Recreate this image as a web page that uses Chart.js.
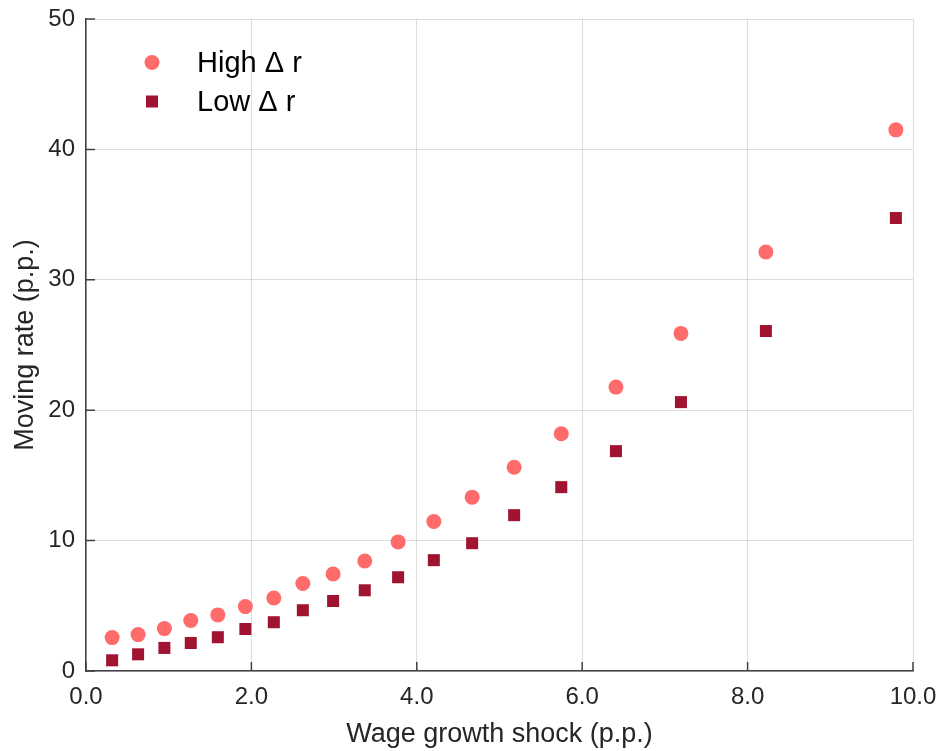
<!DOCTYPE html>
<html>
<head>
<meta charset="utf-8">
<script src="https://cdn.jsdelivr.net/npm/chart.js@4"></script>
<style>
  html, body { margin: 0; padding: 0; background: #ffffff; }
  #wrap { position: relative; width: 941px; height: 751px; }
</style>
</head>
<body>
<div id="wrap"><canvas id="chart" width="941" height="751"></canvas></div>
<script>
// wage growth shock (p.p.) -- same x for both series
const shock = [0.316, 0.630, 0.948, 1.267, 1.594, 1.927, 2.271, 2.622, 2.988, 3.371,
  3.774, 4.206, 4.669, 5.177, 5.747, 6.408, 7.194, 8.221, 9.793];
const highDr = [2.56, 2.79, 3.25, 3.87, 4.30, 4.94, 5.60, 6.71, 7.44, 8.44,
  9.90, 11.47, 13.33, 15.63, 18.19, 21.77, 25.89, 32.13, 41.50];
const lowDr = [0.82, 1.28, 1.77, 2.15, 2.59, 3.22, 3.74, 4.66, 5.37, 6.19,
  7.19, 8.50, 9.80, 11.95, 14.10, 16.86, 20.62, 26.07, 34.74];
const seriesLabels = ["High \u0394 r", "Low \u0394 r"];
const xTicks = [0, 2, 4, 6, 8, 10];
const yTicks = [0, 10, 20, 30, 40, 50];

const FONT = "'Liberation Sans', Arial, sans-serif";
const TXT = "#262626";

const pairs = (xs, ys) => xs.map((x, i) => ({ x: x, y: ys[i] }));

// matlab-like inward tick marks
const innerTicks = {
  id: "innerTicks",
  afterDatasetsDraw(chart) {
    const ctx = chart.ctx;
    const xs = chart.scales.x, ys = chart.scales.y;
    ctx.save();
    ctx.strokeStyle = "#404040";
    ctx.lineWidth = 1.5;
    ctx.beginPath();
    xTicks.forEach(v => {
      const px = xs.getPixelForValue(v);
      ctx.moveTo(px, ys.bottom);
      ctx.lineTo(px, ys.bottom - 9);
    });
    yTicks.forEach(v => {
      const py = ys.getPixelForValue(v);
      ctx.moveTo(xs.left, py);
      ctx.lineTo(xs.left + 9, py);
    });
    ctx.stroke();
    ctx.restore();
  }
};

// legend inside the plot, top-left
const insideLegend = {
  id: "insideLegend",
  afterDraw(chart) {
    const ctx = chart.ctx;
    const a = chart.chartArea;
    ctx.save();
    chart.data.datasets.forEach((ds, i) => {
      const cy = a.top + 43.5 + i * 39;
      const cx = a.left + 66;
      ctx.fillStyle = ds.backgroundColor;
      Chart.helpers.drawPoint(ctx, {
        pointStyle: ds.pointStyle,
        radius: ds.pointRadius,
        borderWidth: 0
      }, cx, cy);
      ctx.fillStyle = "#000000";
      ctx.font = "29px " + FONT;
      ctx.textBaseline = "middle";
      ctx.textAlign = "left";
      ctx.fillText(ds.label, a.left + 111, cy + 1);
    });
    ctx.restore();
  }
};

new Chart(document.getElementById("chart"), {
  type: "scatter",
  data: {
    datasets: [
      {
        label: seriesLabels[0],
        data: pairs(shock, highDr),
        pointStyle: "circle",
        pointRadius: 7.5,
        pointHoverRadius: 7.5,
        borderWidth: 0,
        backgroundColor: "#ff6b6b",
        borderColor: "#ff6b6b",
      },
      {
        label: seriesLabels[1],
        data: pairs(shock, lowDr),
        pointStyle: "rect",
        pointRadius: 8.5,
        pointHoverRadius: 8.5,
        borderWidth: 0,
        backgroundColor: "#a01431",
        borderColor: "#a01431",
      },
    ],
  },
  options: {
    responsive: false,
    animation: false,
    layout: { padding: { top: 19, right: 28, left: 0, bottom: 0 } },
    plugins: {
      legend: { display: false },
      tooltip: { enabled: false },
    },
    scales: {
      x: {
        type: "linear",
        min: 0,
        max: 10,
        afterBuildTicks: s => { s.ticks = xTicks.map(v => ({ value: v })); },
        afterFit: s => { s.height = 80; s.paddingLeft = 0; s.paddingRight = 0; },
        ticks: {
          color: TXT,
          font: { family: FONT, size: 24 },
          padding: 12,
          maxRotation: 0,
          callback: v => v.toFixed(1),
        },
        grid: { color: "rgba(0,0,0,0.13)", lineWidth: 1, drawTicks: false },
        border: { color: "#404040", width: 1.5 },
        title: {
          display: true,
          text: "Wage growth shock (p.p.)",
          color: TXT,
          font: { family: FONT, size: 27 },
          padding: { top: 4, bottom: 0 },
        },
      },
      y: {
        type: "linear",
        min: 0,
        max: 50,
        afterBuildTicks: s => { s.ticks = yTicks.map(v => ({ value: v })); },
        afterFit: s => { s.width = 86; s.paddingTop = 0; s.paddingBottom = 0; },
        ticks: {
          color: TXT,
          font: { family: FONT, size: 24 },
          padding: 11,
          callback: v => String(v),
        },
        grid: { color: "rgba(0,0,0,0.13)", lineWidth: 1, drawTicks: false },
        border: { color: "#404040", width: 1.5 },
        title: {
          display: true,
          text: "Moving rate (p.p.)",
          color: TXT,
          font: { family: FONT, size: 27 },
          padding: { top: 9, bottom: 0 },
        },
      },
    },
  },
  plugins: [innerTicks, insideLegend],
});
</script>
</body>
</html>
